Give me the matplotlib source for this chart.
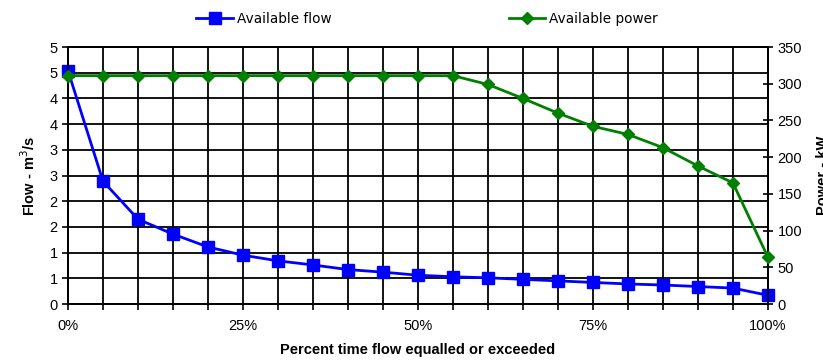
import matplotlib.pyplot as plt
from matplotlib.ticker import FuncFormatter

# percent of time flow equalled or exceeded
pct_time = [0, 5, 10, 15, 20, 25, 30, 35, 40, 45, 50,
            55, 60, 65, 70, 75, 80, 85, 90, 95, 100]
# available flow, m3/s
flow = [4.54, 2.39, 1.65, 1.36, 1.11, 0.95, 0.84, 0.76, 0.67, 0.62, 0.56,
        0.53, 0.51, 0.48, 0.45, 0.42, 0.39, 0.37, 0.34, 0.31, 0.17]
# available power, kW
power = [311, 311, 311, 311, 311, 311, 311, 311, 311, 311, 311,
         311, 299, 280, 260, 242, 231, 213, 188, 165, 64]

flow_ticks = [0, 0.5, 1, 1.5, 2, 2.5, 3, 3.5, 4, 4.5, 5]
power_ticks = [0, 50, 100, 150, 200, 250, 300, 350]
x_labels = {0: '0%', 25: '25%', 50: '50%', 75: '75%', 100: '100%'}

plt.rcParams['font.family'] = ['Liberation Sans', 'DejaVu Sans']

fig, ax = plt.subplots(figsize=(8.23, 3.63), dpi=100)
fig.subplots_adjust(left=0.0826, right=0.933, bottom=0.1625, top=0.8705)
ax2 = ax.twinx()

l1, = ax.plot(pct_time, flow, color='#0000ff', lw=2, marker='s', ms=9,
              label='Available flow', zorder=3, clip_on=False)
l2, = ax2.plot(pct_time, power, color='#008000', lw=2, marker='D', ms=6,
               label='Available power', zorder=3, clip_on=False)

ax.set_xlim(0, 100)
ax.set_ylim(0, 5)
ax2.set_ylim(0, 350)

ax.set_xticks(pct_time)
ax.set_xticklabels([x_labels.get(p, '') for p in pct_time])
ax.set_yticks(flow_ticks)
ax.yaxis.set_major_formatter(FuncFormatter(lambda v, pos: '%d' % int(v + 0.5)))
ax2.set_yticks(power_ticks)

ax.grid(True, color='black', lw=1.3)
ax.set_axisbelow(True)
for a in (ax, ax2):
    for s in a.spines.values():
        s.set_color('black')
        s.set_linewidth(1.3)
ax.tick_params(axis='both', labelsize=10.5, length=4, width=1.2, color='black')
ax.tick_params(axis='x', pad=7)
ax2.tick_params(axis='y', labelsize=10.5, length=7, width=1.2, direction='inout')

ax.set_xlabel('Percent time flow equalled or exceeded', fontsize=10.5,
              fontweight='bold', labelpad=7)
ax.set_ylabel('Flow - m$^3$/s', fontsize=10.5, fontweight='bold', labelpad=8)
ax2.set_ylabel('Power - kW', fontsize=10.5, fontweight='bold', labelpad=10)

fig.legend(handles=[l1, l2], loc='upper center', bbox_to_anchor=(0.519, 1.0),
           ncol=2, frameon=False, columnspacing=13, handlelength=2.7,
           handletextpad=0.3, prop={'family': 'DejaVu Sans', 'size': 9.8})

plt.savefig('out.png', dpi=100)
